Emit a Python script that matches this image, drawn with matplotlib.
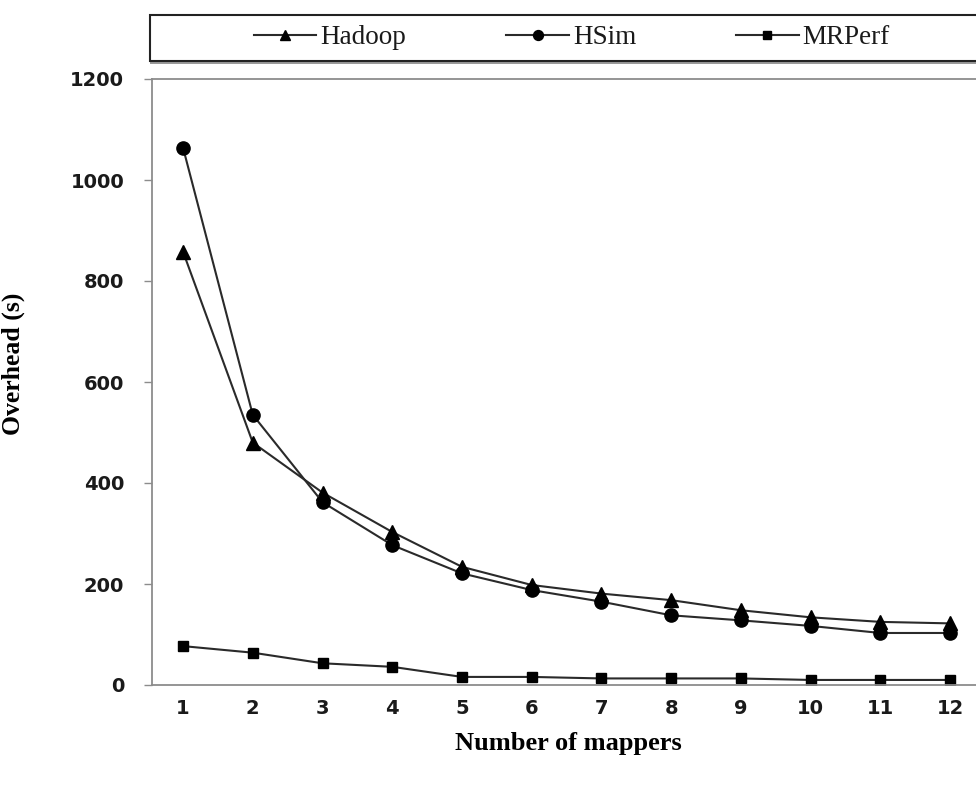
import matplotlib.pyplot as plt
from matplotlib.patches import Rectangle

mappers = list(range(1, 13))
hadoop = [858, 480, 381, 303, 234, 198, 181, 168, 148, 134, 125, 122]
hsim = [1064, 535, 362, 277, 221, 188, 165, 138, 128, 117, 103, 103]
mrperf = [77, 64, 43, 36, 16, 16, 13, 13, 13, 10, 10, 10]
yticks = [0, 200, 400, 600, 800, 1000, 1200]

W, H = 976, 785
fig = plt.figure(figsize=(W / 100, H / 100), dpi=100)
# plot area in pixel terms (right edge runs past the picture like the original)
ax = fig.add_axes([152 / W, 1 - 685 / H, (985 - 152) / W, (685 - 79) / H])

lc = '#2a2a2a'
ax.plot(mappers, hadoop, color=lc, lw=1.5, marker='^', ms=9.5, mfc='black', mec='black', label='Hadoop')
ax.plot(mappers, hsim, color=lc, lw=1.5, marker='o', ms=9.5, mfc='black', mec='black', label='HSim')
ax.plot(mappers, mrperf, color=lc, lw=1.5, marker='s', ms=7.5, mfc='black', mec='black', label='MRPerf')

ax.set_xlim(0.555, 12.5)
ax.set_ylim(0, 1200)
ax.set_xticks(mappers)
ax.set_yticks(yticks)

tick_font = dict(family='DejaVu Sans', weight='bold', size=14)
ax.set_xticklabels([str(m) for m in mappers], fontdict=tick_font)
ax.set_yticklabels([str(t) for t in yticks], fontdict=tick_font)
ax.tick_params(axis='x', length=0, pad=10, colors='#1a1a1a')
ax.tick_params(axis='y', length=6, width=1, color='#8c8c8c', pad=14, labelcolor='#1a1a1a')

for side in ['left', 'bottom', 'top']:
    ax.spines[side].set_color('#8c8c8c')
    ax.spines[side].set_linewidth(1.3)
ax.spines['right'].set_visible(False)

ax.set_xlabel('Number of mappers', family='Liberation Serif', weight='bold', size=19, labelpad=10)
ax.set_ylabel('Overhead (s)', family='Liberation Serif', weight='bold', size=18.5)
ax.yaxis.set_label_coords((25 - 152) / 833, 0.53)

# legend box across the top
fig.patches.append(Rectangle((150 / W, 1 - 64 / H), 840 / W, 47 / H, transform=fig.transFigure,
                             facecolor='#9a9a9a', edgecolor='none', zorder=0))
fig.patches.append(Rectangle((150 / W, 1 - 61 / H), 840 / W, 46 / H, transform=fig.transFigure,
                             facecolor='white', edgecolor='#222222', lw=1.5, zorder=1))

handles, labels = ax.get_legend_handles_labels()
leg = fig.legend(handles, labels, loc='center', bbox_to_anchor=(572 / W, 1 - 38 / H), ncol=3,
                 frameon=False, handlelength=2.3, handletextpad=0.15, columnspacing=3.7,
                 markerscale=0.75, prop=dict(family='Liberation Serif', size=19.5))
for t in leg.get_texts():
    t.set_color('#1a1a1a')

fig.savefig('out.png', dpi=100)
